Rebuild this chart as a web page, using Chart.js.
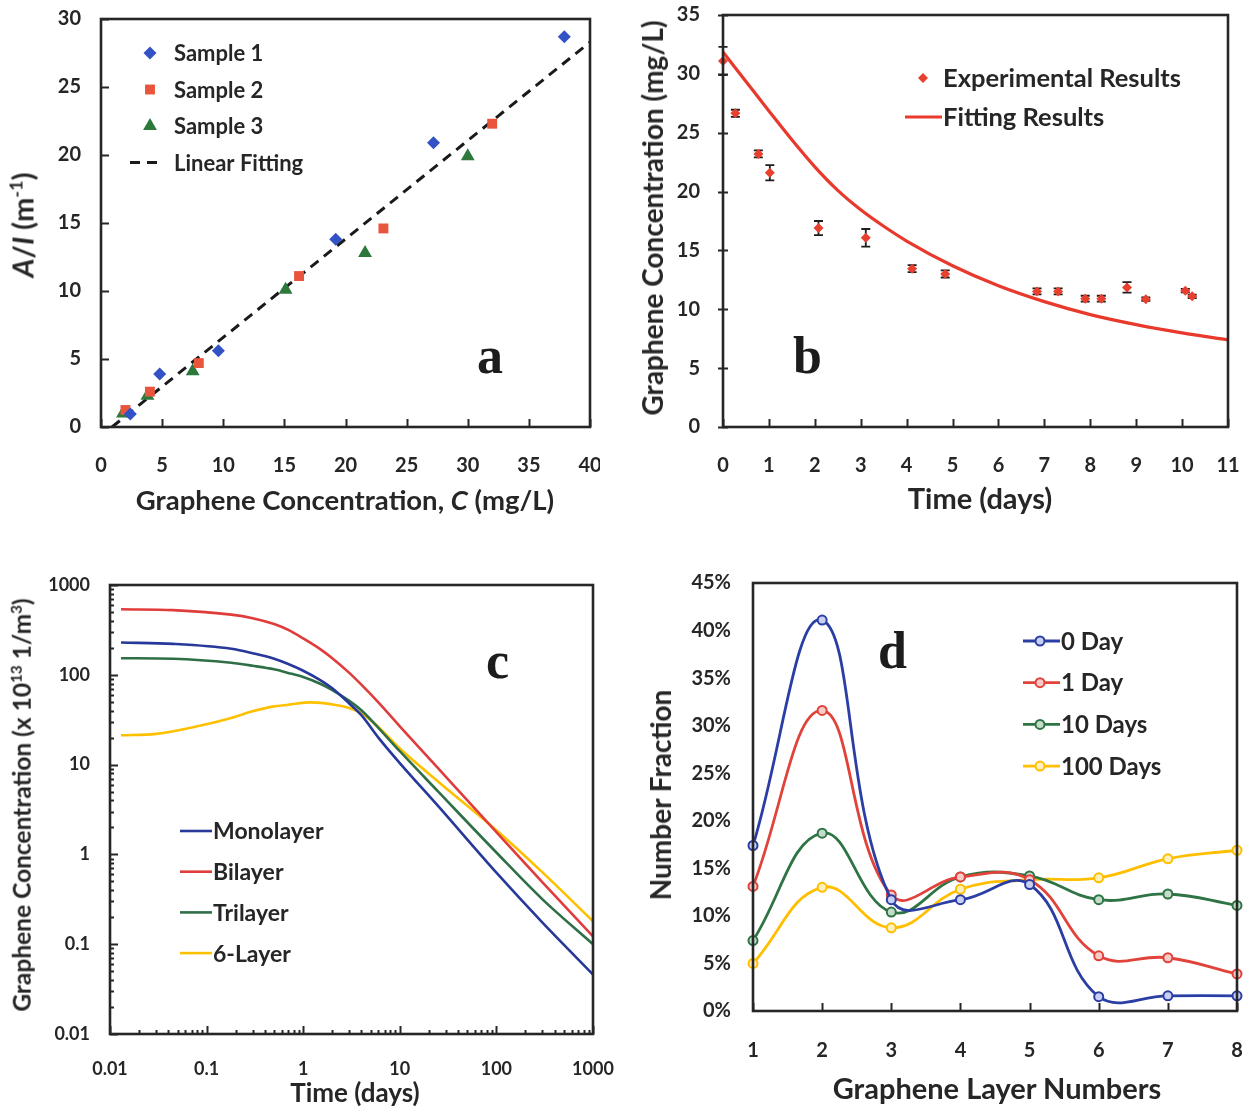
<!DOCTYPE html>
<html>
<head>
<meta charset="utf-8">
<title>Graphene concentration panels</title>
<script src="https://cdn.jsdelivr.net/npm/chart.js@4.4.1/dist/chart.umd.min.js"></script>
<style>
  body { margin: 0; background: #fff; }
  #page { position: relative; width: 1249px; height: 1110px; overflow: hidden; font-family: Lato, sans-serif; color: #262626; }
  canvas { position: absolute; }
  .ttl { position: absolute; font-weight: bold; white-space: nowrap; line-height: 1; transform: translate(-50%, -50%); }
  .ttl.v { transform: translate(-50%, -50%) rotate(-90deg); }
  .ttl sup { font-size: 0.62em; vertical-align: 0.62em; line-height: 0; }
  .tag { position: absolute; font-family: 'Liberation Serif', 'Times New Roman', serif; font-weight: bold; font-size: 52px; line-height: 52px; color: #1c1c1c; }
</style>
</head>
<body>
<div id="page">
  <canvas id="chartA" width="600" height="520" style="left:0;top:0"></canvas>
  <canvas id="chartB" width="629" height="520" style="left:620px;top:0"></canvas>
  <canvas id="chartC" width="625" height="550" style="left:0;top:560px"></canvas>
  <canvas id="chartD" width="619" height="550" style="left:630px;top:560px"></canvas>

  <div class="ttl v" style="left:22px;top:225px;font-size:29px"><i>A</i>/<i>I</i> (m<sup>-1</sup>)</div>
  <div class="ttl" style="left:345px;top:500px;font-size:27.5px">Graphene Concentration, <i>C</i> (mg/L)</div>
  <div class="ttl v" style="left:652px;top:218px;font-size:28px">Graphene Concentration (mg/L)</div>
  <div class="ttl" style="left:980px;top:497px;font-size:29px">Time (days)</div>
  <div class="ttl v" style="left:22px;top:805px;font-size:24.5px">Graphene Concentration (x 10<sup>13</sup> 1/m<sup>3</sup>)</div>
  <div class="ttl" style="left:355px;top:1092px;font-size:26px">Time (days)</div>
  <div class="ttl v" style="left:660px;top:795px;font-size:28px">Number Fraction</div>
  <div class="ttl" style="left:997px;top:1087px;font-size:29px">Graphene Layer Numbers</div>

  <div class="tag" style="left:477px;top:330px">a</div>
  <div class="tag" style="left:793px;top:330px">b</div>
  <div class="tag" style="left:486px;top:635px">c</div>
  <div class="tag" style="left:878px;top:625px">d</div>
</div>
<script>
// (a) absorbance per path length vs concentration
const s1X = [2.4, 4.8, 9.6, 19.2, 27.2, 37.9];
const s1Y = [0.96, 3.9, 5.6, 13.8, 20.9, 28.7];
const s2X = [2.0, 4.0, 8.0, 16.2, 23.1, 32.0];
const s2Y = [1.25, 2.6, 4.7, 11.1, 14.6, 22.3];
const s3X = [1.8, 3.8, 7.5, 15.1, 21.6, 30.0];
const s3Y = [1.0, 2.3, 4.1, 10.1, 12.8, 19.9];
const linFitX = [0.9, 40];
const linFitY = [0, 28.3];

// (b) measured concentration over time, with error bars, and the fitted curve
const expDays = [0, 0.27, 0.77, 1.02, 2.08, 3.11, 4.12, 4.84, 6.84, 7.30, 7.89, 8.24, 8.80, 9.21, 10.07, 10.22];
const expConc = [31.1, 26.65, 23.2, 21.6, 16.9, 16.07, 13.45, 13.0, 11.52, 11.52, 10.9, 10.9, 11.86, 10.86, 11.58, 11.1];
const expErr = [1.2, 0.3, 0.3, 0.65, 0.6, 0.75, 0.3, 0.3, 0.25, 0.25, 0.25, 0.25, 0.45, 0.15, 0.15, 0.15];
const fitDays = [0, 0.5, 1, 1.5, 2, 2.5, 3, 3.5, 4, 5, 6, 7, 8, 9, 10, 11];
const fitConc = [31.85, 29.35, 26.85, 24.4, 22.1, 20.1, 18.45, 17.05, 15.8, 13.7, 12.0, 10.65, 9.55, 8.7, 8.0, 7.4];

// (c) simulated concentration by layer count, log-log
const cDays = [0.013, 0.045, 0.18, 0.3, 0.5, 0.7, 1, 1.5, 2, 3, 4, 6, 10, 25, 100, 300, 1000];
const monoC = [229, 221, 195, 174, 151, 132, 111, 87.3, 70.8, 47.9, 35.5, 20, 10.4, 3.44, 0.625, 0.174, 0.046];
const biC = [537, 525, 468, 427, 367, 316, 254, 193, 153, 105, 77.6, 49.3, 26.7, 9.06, 1.77, 0.489, 0.122];
const triC = [153, 151, 136, 126, 115, 105, 94.4, 79.4, 67.6, 51.3, 40.3, 25.7, 14.1, 5.0, 1.05, 0.316, 0.1];
const hexDays = [0.013, 0.03, 0.08, 0.18, 0.3, 0.5, 0.7, 1.2, 2.1, 3, 4, 6, 10, 25, 100, 300, 1000];
const hexC = [21.2, 22, 26.7, 33.1, 39.2, 44.5, 46.4, 49.3, 46.4, 42.6, 37.5, 26.3, 15.1, 6.46, 1.86, 0.63, 0.18];
const decades = [0.01, 0.1, 1, 10, 100, 1000];

// (d) number fraction (%) by layer number
const layerNums = ['1', '2', '3', '4', '5', '6', '7', '8'];
const day0 = [17.4, 41.1, 11.7, 11.7, 13.3, 1.5, 1.6, 1.6];
const day1 = [13.1, 31.6, 12.2, 14.1, 13.8, 5.8, 5.6, 3.9];
const day10 = [7.4, 18.7, 10.4, 14.1, 14.2, 11.7, 12.3, 11.1];
const day100 = [5.0, 13.0, 8.75, 12.8, 13.8, 14.0, 16.0, 16.9];

Chart.defaults.font.family = 'Lato';
Chart.defaults.font.weight = 'bold';
Chart.defaults.color = '#262626';
Chart.defaults.animation = false;
Chart.defaults.plugins.legend.display = false;
Chart.defaults.plugins.tooltip.enabled = false;

const BLUE = '#2a3ea4', RED = '#e1423a', GREEN = '#2e7444', YELLOW = '#ffbf00';
const INK = '#262626';

const pts = (xs, ys) => xs.map((x, i) => ({ x, y: ys[i] }));

// fixed axis sizes so every plot box lands where it should
function axis(extra, size, horiz) {
    return Object.assign({
        grid: { display: false, drawTicks: false },
        border: { display: false },
        afterFit(s) {
            if (horiz) { s.height = size; s.paddingLeft = 0; s.paddingRight = 0; }
            else { s.width = size; s.paddingTop = 0; s.paddingBottom = 0; }
        }
    }, extra);
}

function logTicks(scale) {
    const list = [];
    decades.forEach(d => {
        for (let m = 1; m <= 9; m++) {
            const v = +(m * d).toPrecision(6);
            if (v <= 1000) list.push({ value: v, major: m === 1 });
        }
    });
    scale.ticks = list;
}

// box around the plot area plus inward tick marks
const framePlugin = {
    id: 'frame',
    afterDatasetsDraw(chart, args, opts) {
        const { ctx, chartArea: a } = chart;
        ctx.save();
        ctx.strokeStyle = INK;
        ['x', 'y'].forEach(id => {
            const t = opts[id];
            if (!t) return;
            const s = chart.scales[id];
            ctx.lineWidth = 2;
            s.ticks.forEach(tk => {
                const len = tk.major === false ? t.minor : t.len;
                const out = tk.major === false ? 0 : (t.out || 0);
                const p = Math.round(s.getPixelForValue(tk.value)) + 0.5;
                ctx.beginPath();
                if (id === 'x') { ctx.moveTo(p, a.bottom + out); ctx.lineTo(p, a.bottom - len); }
                else { ctx.moveTo(a.left - out, p); ctx.lineTo(a.left + len, p); }
                ctx.stroke();
            });
        });
        ctx.lineWidth = 2.6;
        ctx.strokeRect(a.left, a.top, a.right - a.left, a.bottom - a.top);
        ctx.restore();
    }
};

function mark(ctx, style, x, y, r) {
    ctx.beginPath();
    if (style === 'rectRot') {
        ctx.moveTo(x, y - r); ctx.lineTo(x + r, y); ctx.lineTo(x, y + r); ctx.lineTo(x - r, y);
    } else if (style === 'rect') {
        const h = r * Math.SQRT1_2;
        ctx.rect(x - h, y - h, 2 * h, 2 * h);
    } else if (style === 'triangle') {
        ctx.moveTo(x, y - r); ctx.lineTo(x + r * 0.866, y + r * 0.5); ctx.lineTo(x - r * 0.866, y + r * 0.5);
    } else {
        ctx.arc(x, y, r, 0, Math.PI * 2);
    }
    ctx.closePath();
}

// legend drawn inside the plot at fixed spots
const keyPlugin = {
    id: 'key',
    afterDraw(chart, args, o) {
        if (!o.y) return;
        const ctx = chart.ctx;
        ctx.save();
        ctx.font = o.font;
        ctx.textBaseline = 'middle';
        chart.data.datasets.forEach((ds, i) => {
            const y = o.y + i * o.gap;
            if (ds.keyLine) {
                ctx.strokeStyle = ds.borderColor;
                ctx.lineWidth = ds.borderWidth;
                ctx.setLineDash(ds.borderDash || []);
                ctx.beginPath(); ctx.moveTo(o.x0, y); ctx.lineTo(o.x1, y); ctx.stroke();
                ctx.setLineDash([]);
            }
            if (ds.keyMark) {
                mark(ctx, ds.pointStyle, o.mx, y, ds.pointRadius);
                ctx.fillStyle = ds.pointBackgroundColor || ds.backgroundColor;
                ctx.fill();
                if (ds.pointBorderWidth) {
                    ctx.lineWidth = ds.pointBorderWidth;
                    ctx.strokeStyle = ds.borderColor;
                    ctx.stroke();
                }
            }
            ctx.fillStyle = INK;
            ctx.fillText(ds.label, o.tx, y + 1);
        });
        ctx.restore();
    }
};

const errorBars = {
    id: 'errorBars',
    beforeDatasetsDraw(chart) {
        const ds = chart.data.datasets[0];
        if (!ds.errors) return;
        const { ctx, scales: { x, y } } = chart;
        ctx.save();
        ctx.strokeStyle = '#1e1e1e';
        ctx.lineWidth = 1.8;
        ds.data.forEach((p, i) => {
            const px = x.getPixelForValue(p.x);
            const hi = y.getPixelForValue(p.y + ds.errors[i]);
            const lo = y.getPixelForValue(p.y - ds.errors[i]);
            ctx.beginPath();
            ctx.moveTo(px, hi); ctx.lineTo(px, lo);
            ctx.moveTo(px - 4.5, hi); ctx.lineTo(px + 4.5, hi);
            ctx.moveTo(px - 4.5, lo); ctx.lineTo(px + 4.5, lo);
            ctx.stroke();
        });
        ctx.restore();
    }
};

// (a)
new Chart(document.getElementById('chartA'), {
    type: 'scatter',
    data: {
        datasets: [
            { label: 'Sample 1', data: pts(s1X, s1Y), pointStyle: 'rectRot', pointRadius: 6.5, backgroundColor: '#3352c6', pointBorderWidth: 0, keyMark: true },
            { label: 'Sample 2', data: pts(s2X, s2Y), pointStyle: 'rect', pointRadius: 7, backgroundColor: '#e9553c', pointBorderWidth: 0, keyMark: true },
            { label: 'Sample 3', data: pts(s3X, s3Y), pointStyle: 'triangle', pointRadius: 8, backgroundColor: '#2d783b', pointBorderWidth: 0, keyMark: true },
            { label: 'Linear Fitting', data: pts(linFitX, linFitY), showLine: true, pointRadius: 0, borderColor: '#1a1a1a', borderWidth: 3, borderDash: [10, 7], keyLine: true }
        ]
    },
    options: {
        responsive: false,
        layout: { padding: { top: 19, right: 10, left: 0, bottom: 0 } },
        scales: {
            x: axis({ type: 'linear', min: 0, max: 40, ticks: { stepSize: 5, padding: 27, font: { size: 20 } } }, 93, true),
            y: axis({ type: 'linear', min: 0, max: 30, ticks: { stepSize: 5, padding: 20, font: { size: 20 } } }, 101, false)
        },
        plugins: {
            frame: { x: { len: 8 }, y: { len: 8 } },
            key: { y: 53, gap: 36.5, mx: 150, tx: 174, x0: 130, x1: 163, font: 'bold 22px Lato' }
        }
    },
    plugins: [framePlugin, keyPlugin]
});

// (b)
new Chart(document.getElementById('chartB'), {
    type: 'line',
    data: {
        datasets: [
            { label: 'Experimental Results', data: pts(expDays, expConc), errors: expErr, showLine: false, pointStyle: 'rectRot', pointRadius: 5, backgroundColor: '#e8402f', borderColor: '#e8402f', pointBorderWidth: 0, clip: false, keyMark: true },
            { label: 'Fitting Results', data: pts(fitDays, fitConc), borderColor: '#e8392c', borderWidth: 3.2, pointRadius: 0, cubicInterpolationMode: 'monotone', clip: false, keyLine: true }
        ]
    },
    options: {
        responsive: false,
        layout: { padding: { top: 15, right: 21, left: 0, bottom: 0 } },
        scales: {
            x: axis({ type: 'linear', min: 0, max: 11, ticks: { stepSize: 1, padding: 27, font: { size: 20 } } }, 93, true),
            y: axis({ type: 'linear', min: 0, max: 35, ticks: { stepSize: 5, padding: 23, font: { size: 20 } } }, 103, false)
        },
        plugins: {
            frame: { x: { len: 8 }, y: { len: 5, out: 5 } },
            key: { y: 78, gap: 39, mx: 303, tx: 323, x0: 285, x1: 322, font: 'bold 25.5px Lato' }
        }
    },
    plugins: [errorBars, framePlugin, keyPlugin]
});

// (c)
const logAxis = (size, horiz, pad, font) => axis({
    type: 'logarithmic', min: 0.01, max: 1000,
    afterBuildTicks: logTicks,
    ticks: { autoSkip: false, maxRotation: 0, padding: pad, font: { size: font }, callback: v => decades.includes(v) ? String(v) : '' }
}, size, horiz);

const cLine = (label, xs, ys, color) => ({
    label, data: pts(xs, ys), borderColor: color, borderWidth: 2.6, pointRadius: 0,
    cubicInterpolationMode: 'monotone', keyLine: true
});

new Chart(document.getElementById('chartC'), {
    type: 'line',
    data: {
        datasets: [
            cLine('Monolayer', cDays, monoC, '#26389a'),
            cLine('Bilayer', cDays, biC, '#e03c3c'),
            cLine('Trilayer', cDays, triC, '#2f6f47'),
            cLine('6-Layer', hexDays, hexC, '#ffc000')
        ]
    },
    options: {
        responsive: false,
        layout: { padding: { top: 25, right: 32, left: 0, bottom: 0 } },
        scales: {
            x: logAxis(76, true, 24, 18),
            y: logAxis(110, false, 20, 18)
        },
        plugins: {
            frame: { x: { len: 8, minor: 4 }, y: { len: 8, minor: 4 } },
            key: { y: 271, gap: 40.7, tx: 213, x0: 180, x1: 212, font: 'bold 23px Lato' }
        }
    },
    plugins: [framePlugin, keyPlugin]
});

// (d)
const dLine = (label, values, color, tint) => ({
    label, data: values, borderColor: color, borderWidth: 2.8, tension: 0.42,
    pointStyle: 'circle', pointRadius: 4.5, pointBorderWidth: 2, pointBackgroundColor: tint,
    clip: false, keyLine: true, keyMark: true
});

new Chart(document.getElementById('chartD'), {
    type: 'line',
    data: {
        labels: layerNums,
        datasets: [
            dLine('0 Day', day0, BLUE, '#c9cff0'),
            dLine('1 Day', day1, RED, '#f6cbc8'),
            dLine('10 Days', day10, GREEN, '#c6dccb'),
            dLine('100 Days', day100, YELLOW, '#fff0bf')
        ]
    },
    options: {
        responsive: false,
        layout: { padding: { top: 23, right: 12, left: 0, bottom: 0 } },
        scales: {
            x: axis({ type: 'category', ticks: { padding: 28, font: { size: 20 } } }, 99, true),
            y: axis({ type: 'linear', min: 0, max: 45, ticks: { stepSize: 5, padding: 22, font: { size: 20 }, callback: v => v + '%' } }, 123, false)
        },
        plugins: {
            frame: { x: { len: 8 } },
            key: { y: 81, gap: 41.7, mx: 410, tx: 431, x0: 393, x1: 430, font: 'bold 24px Lato' }
        }
    },
    plugins: [framePlugin, keyPlugin]
});
</script>
</body>
</html>
